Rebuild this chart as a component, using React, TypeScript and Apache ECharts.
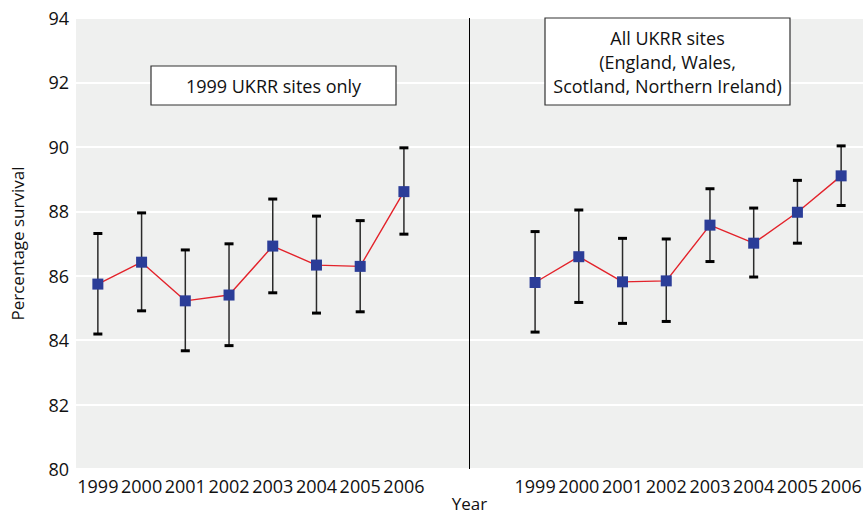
import { useEffect, useRef } from 'react'
import * as echarts from 'echarts'

const YEARS = ['1999', '2000', '2001', '2002', '2003', '2004', '2005', '2006']

// left panel: 1999 UKRR sites only
const COHORT_MEAN = [85.74, 86.42, 85.22, 85.4, 86.92, 86.33, 86.29, 88.61]
const COHORT_LOW = [84.19, 84.91, 83.67, 83.83, 85.47, 84.84, 84.88, 87.29]
const COHORT_HIGH = [87.31, 87.95, 86.8, 86.99, 88.38, 87.85, 87.71, 89.97]

// right panel: all UKRR sites
const ALL_MEAN = [85.79, 86.59, 85.81, 85.84, 87.57, 87.01, 87.97, 89.1]
const ALL_LOW = [84.25, 85.17, 84.52, 84.58, 86.44, 85.96, 87.01, 88.18]
const ALL_HIGH = [87.37, 88.04, 87.16, 87.14, 88.7, 88.1, 88.96, 90.03]

const LEFT_X = YEARS.map((_, i) => i + 1)
const RIGHT_X = YEARS.map((_, i) => i + 11)

const FONT = '"Open Sans", sans-serif'
const PANEL_BG = '#eff0ef'
const LINE_RED = '#e3232b'
const MARK_BLUE = '#2b3d98'

function toPoints(xs: number[], ys: number[]) {
  return xs.map((x, i) => [x, ys[i]])
}

function toBars(xs: number[], lows: number[], highs: number[]) {
  return xs.map((x, i) => [x, lows[i], highs[i]])
}

function yearLabel(v: number) {
  const idx = v > 10 ? v - 11 : v - 1
  return YEARS[Math.round(idx)] ?? ''
}

function renderErrorBar(params: any, api: any) {
  const x = api.value(0)
  const lo = api.coord([x, api.value(1)])
  const hi = api.coord([x, api.value(2)])
  const half = 4.5
  return {
    type: 'group',
    children: [
      {
        type: 'line',
        shape: { x1: lo[0], y1: lo[1], x2: hi[0], y2: hi[1] },
        style: { stroke: '#2a2a2a', lineWidth: 1.5 },
      },
      {
        type: 'line',
        shape: { x1: hi[0] - half, y1: hi[1], x2: hi[0] + half, y2: hi[1] },
        style: { stroke: '#000', lineWidth: 3 },
      },
      {
        type: 'line',
        shape: { x1: lo[0] - half, y1: lo[1], x2: lo[0] + half, y2: lo[1] },
        style: { stroke: '#000', lineWidth: 3 },
      },
    ],
  }
}

function labelBox(x: number, y: number, w: number, h: number, text: string) {
  return [
    {
      type: 'rect',
      z: 100,
      shape: { x, y, width: w, height: h },
      style: { fill: '#fff', stroke: '#333', lineWidth: 1.2 },
    },
    {
      type: 'text',
      z: 101,
      x: x + w / 2,
      y: y + h / 2,
      style: {
        text,
        font: `18px ${FONT}`,
        lineHeight: 24,
        fill: '#111',
        align: 'center',
        verticalAlign: 'middle',
      },
    },
  ]
}

function buildOption(): any {
  const lineSeries = (name: string, xs: number[], ys: number[]) => ({
    name,
    type: 'line',
    data: toPoints(xs, ys),
    symbol: 'rect',
    symbolSize: 11,
    itemStyle: { color: MARK_BLUE },
    lineStyle: { color: LINE_RED, width: 1.4 },
    z: 5,
  })

  return {
    animation: false,
    textStyle: { fontFamily: FONT },
    grid: {
      left: 76,
      right: 0,
      top: 18,
      bottom: 49,
      outerBoundsMode: 'none',
      containLabel: false,
      show: true,
      backgroundColor: PANEL_BG,
      borderWidth: 0,
    },
    xAxis: {
      type: 'value',
      min: 0.5,
      max: 18.5,
      name: 'Year',
      nameLocation: 'middle',
      nameGap: 26,
      nameMoveOverlap: false,
      nameTextStyle: { color: '#111', fontSize: 17, fontFamily: FONT },
      axisLine: { show: false },
      axisTick: { show: false },
      splitLine: { show: false },
      axisLabel: {
        customValues: [...LEFT_X, ...RIGHT_X],
        formatter: (v: number) => yearLabel(v),
        color: '#111',
        fontSize: 18,
        fontFamily: FONT,
        margin: 8,
      },
    },
    yAxis: {
      type: 'value',
      min: 80,
      max: 94,
      interval: 2,
      name: 'Percentage survival',
      nameLocation: 'middle',
      nameGap: 50,
      nameMoveOverlap: false,
      nameTextStyle: { color: '#111', fontSize: 17, fontFamily: FONT },
      axisLine: { show: false },
      axisTick: { show: false },
      splitLine: { lineStyle: { color: '#ffffff', width: 2 } },
      axisLabel: { color: '#111', fontSize: 18, fontFamily: FONT, margin: 7 },
    },
    graphic: [
      ...labelBox(151, 66, 245, 39, '1999 UKRR sites only'),
      ...labelBox(545, 18, 245, 87, 'All UKRR sites\n(England, Wales,\nScotland, Northern Ireland)'),
    ],
    series: [
      {
        type: 'custom',
        name: 'ci-left',
        renderItem: renderErrorBar,
        data: toBars(LEFT_X, COHORT_LOW, COHORT_HIGH),
        z: 3,
        markLine: {
          silent: true,
          symbol: 'none',
          label: { show: false },
          lineStyle: { color: '#000', width: 1, type: 'solid' },
          data: [{ xAxis: 9.5 }],
        },
      },
      {
        type: 'custom',
        name: 'ci-right',
        renderItem: renderErrorBar,
        data: toBars(RIGHT_X, ALL_LOW, ALL_HIGH),
        z: 3,
      },
      lineSeries('1999 UKRR sites only', LEFT_X, COHORT_MEAN),
      lineSeries('All UKRR sites', RIGHT_X, ALL_MEAN),
    ],
  }
}

export default function App() {
  const ref = useRef<HTMLDivElement>(null)

  useEffect(() => {
    document.body.style.margin = '0'
    const el = ref.current
    if (!el) return
    const chart = echarts.init(el, undefined, { renderer: 'svg' })
    chart.setOption(buildOption())
    return () => chart.dispose()
  }, [])

  return <div ref={ref} style={{ width: 863, height: 518, background: '#fff' }} />
}
